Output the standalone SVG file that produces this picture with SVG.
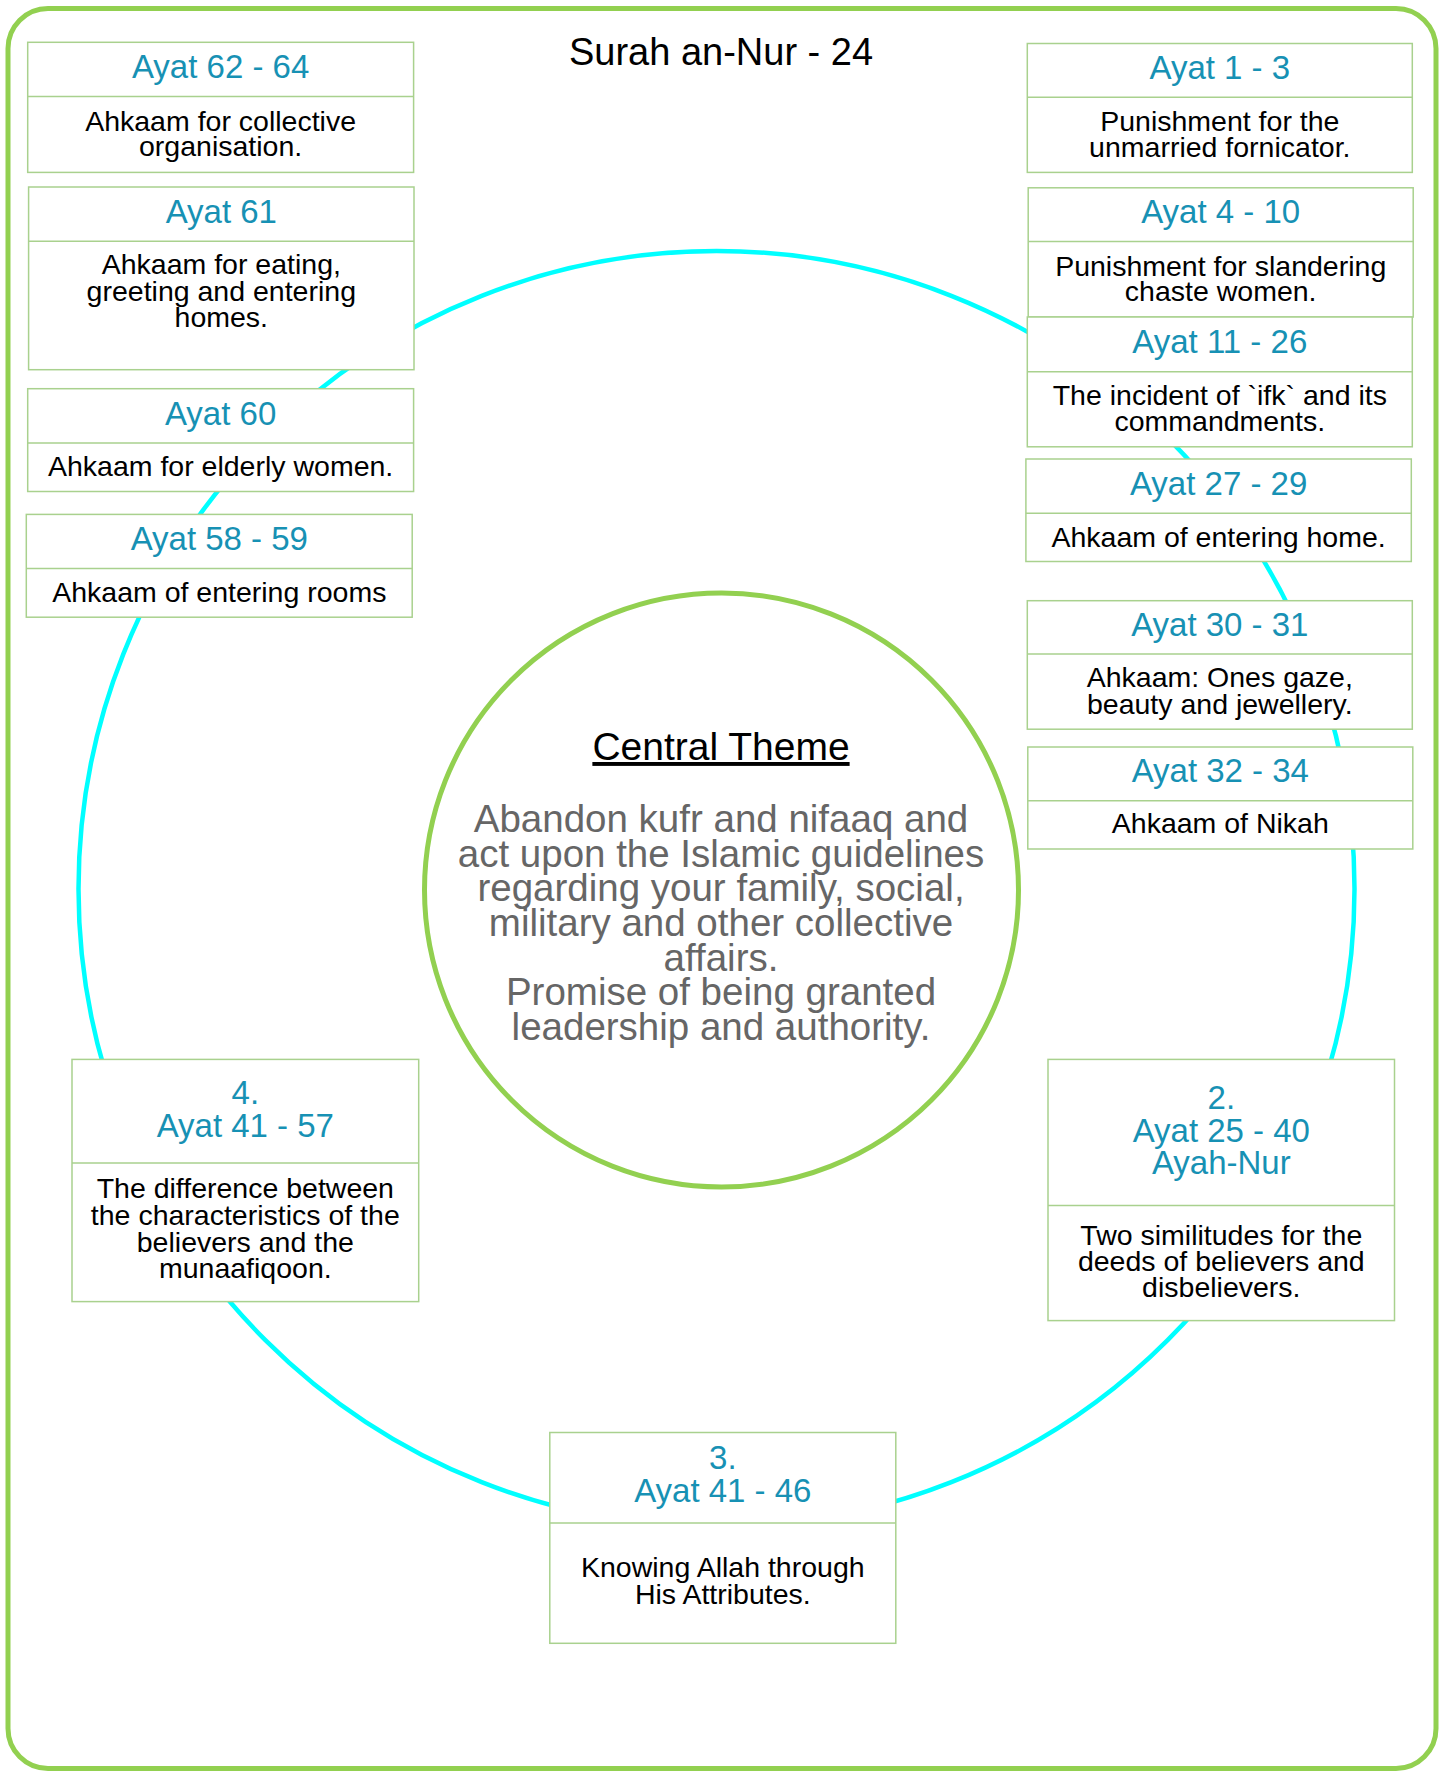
<svg xmlns="http://www.w3.org/2000/svg" width="1447" height="1772" viewBox="0 0 1447 1772">
<style>
.box{fill:#ffffff;stroke:#a9d18e;stroke-width:1.5}
.div{stroke:#a9d18e;stroke-width:1.5}
.hd{font-family:"Liberation Sans",Arial,sans-serif;font-size:33px;fill:#1791b4;text-anchor:middle}
.bd{font-family:"Liberation Sans",Arial,sans-serif;font-size:28.5px;fill:#000000;text-anchor:middle}
.ct{font-family:"Liberation Sans",Arial,sans-serif;font-size:38.5px;fill:#666666;text-anchor:middle}
</style>
<rect x="0" y="0" width="1447" height="1772" fill="#ffffff"/>
<rect id="frame" x="8" y="8.5" width="1428" height="1760" rx="40" ry="40" fill="none" stroke="#92d050" stroke-width="5"/>
<text id="title" x="721" y="64.5" font-family="'Liberation Sans',Arial,sans-serif" font-size="38" fill="#000000" text-anchor="middle">Surah an-Nur - 24</text>
<g id="connectors">
<circle cx="716.5" cy="889" r="638" fill="none" stroke="#00ffff" stroke-width="4.5"/>
</g>
<g id="central">
<circle cx="721.5" cy="890" r="297" fill="#ffffff" stroke="#92d050" stroke-width="5"/>
<text x="721" y="760" font-family="'Liberation Sans',Arial,sans-serif" font-size="39" fill="#000000" text-anchor="middle" text-decoration="underline">Central Theme</text>
<text class="ct"><tspan x="721" y="832">Abandon kufr and nifaaq and</tspan><tspan x="721" y="866.8">act upon the Islamic guidelines</tspan><tspan x="721" y="901.2">regarding your family, social,</tspan><tspan x="721" y="936">military and other collective</tspan><tspan x="721" y="970.8">affairs.</tspan><tspan x="721" y="1005.2">Promise of being granted</tspan><tspan x="721" y="1039.6">leadership and authority.</tspan></text>
</g>
<g id="ayat62-64">
<rect class="box" x="27.7" y="42.3" width="385.9" height="130.1"/>
<line class="div" x1="27.7" y1="96.5" x2="413.6" y2="96.5"/>
<text class="hd" x="220.6" y="78">Ayat 62 - 64</text>
<text class="bd"><tspan x="220.6" y="130.5">Ahkaam for collective</tspan><tspan x="220.6" y="156.2">organisation.</tspan></text>
</g>
<g id="ayat61">
<rect class="box" x="28.6" y="187" width="385.4" height="182.7"/>
<line class="div" x1="28.6" y1="241.2" x2="414" y2="241.2"/>
<text class="hd" x="221.3" y="223.4">Ayat 61</text>
<text class="bd"><tspan x="221.3" y="274">Ahkaam for eating,</tspan><tspan x="221.3" y="300.5">greeting and entering</tspan><tspan x="221.3" y="327">homes.</tspan></text>
</g>
<g id="ayat60">
<rect class="box" x="27.7" y="388.7" width="385.9" height="102.8"/>
<line class="div" x1="27.7" y1="442.9" x2="413.6" y2="442.9"/>
<text class="hd" x="220.6" y="425">Ayat 60</text>
<text class="bd" x="220.6" y="475.7">Ahkaam for elderly women.</text>
</g>
<g id="ayat58-59">
<rect class="box" x="26.3" y="514.4" width="385.9" height="102.8"/>
<line class="div" x1="26.3" y1="568.6" x2="412.2" y2="568.6"/>
<text class="hd" x="219.3" y="549.6">Ayat 58 - 59</text>
<text class="bd" x="219.3" y="601.8">Ahkaam of entering rooms</text>
</g>
<g id="ayat1-3">
<rect class="box" x="1027.3" y="43.5" width="385" height="128.9"/>
<line class="div" x1="1027.3" y1="97.3" x2="1412.3" y2="97.3"/>
<text class="hd" x="1219.8" y="79">Ayat 1 - 3</text>
<text class="bd"><tspan x="1219.8" y="130.5">Punishment for the</tspan><tspan x="1219.8" y="157">unmarried fornicator.</tspan></text>
</g>
<g id="ayat4-10">
<rect class="box" x="1028.2" y="187.8" width="385" height="129.2"/>
<line class="div" x1="1028.2" y1="241.6" x2="1413.2" y2="241.6"/>
<text class="hd" x="1220.7" y="223.4">Ayat 4 - 10</text>
<text class="bd"><tspan x="1220.7" y="275.6">Punishment for slandering</tspan><tspan x="1220.7" y="301.3">chaste women.</tspan></text>
</g>
<g id="ayat11-26">
<rect class="box" x="1027.3" y="317" width="385" height="129.8"/>
<line class="div" x1="1027.3" y1="371.7" x2="1412.3" y2="371.7"/>
<text class="hd" x="1219.8" y="353">Ayat 11 - 26</text>
<text class="bd"><tspan x="1219.8" y="405.3">The incident of `ifk` and its</tspan><tspan x="1219.8" y="431">commandments.</tspan></text>
</g>
<g id="ayat27-29">
<rect class="box" x="1025.9" y="459" width="385.4" height="102.5"/>
<line class="div" x1="1025.9" y1="513.2" x2="1411.3" y2="513.2"/>
<text class="hd" x="1218.6" y="495">Ayat 27 - 29</text>
<text class="bd" x="1218.6" y="546.5">Ahkaam of entering home.</text>
</g>
<g id="ayat30-31">
<rect class="box" x="1027.3" y="600.7" width="385" height="128.5"/>
<line class="div" x1="1027.3" y1="654" x2="1412.3" y2="654"/>
<text class="hd" x="1219.8" y="636.3">Ayat 30 - 31</text>
<text class="bd"><tspan x="1219.8" y="686.9">Ahkaam: Ones gaze,</tspan><tspan x="1219.8" y="713.8">beauty and jewellery.</tspan></text>
</g>
<g id="ayat32-34">
<rect class="box" x="1027.8" y="747" width="385" height="102"/>
<line class="div" x1="1027.8" y1="800.8" x2="1412.8" y2="800.8"/>
<text class="hd" x="1220.3" y="781.8">Ayat 32 - 34</text>
<text class="bd" x="1220.3" y="833.2">Ahkaam of Nikah</text>
</g>
<g id="section2">
<rect class="box" x="1048" y="1059.4" width="346.5" height="261.2"/>
<line class="div" x1="1048" y1="1205.5" x2="1394.5" y2="1205.5"/>
<text class="hd"><tspan x="1221.3" y="1109">2.</tspan><tspan x="1221.3" y="1141.6">Ayat 25 - 40</tspan><tspan x="1221.3" y="1173.5">Ayah-Nur</tspan></text>
<text class="bd"><tspan x="1221.3" y="1244.5">Two similitudes for the</tspan><tspan x="1221.3" y="1270.5">deeds of believers and</tspan><tspan x="1221.3" y="1297">disbelievers.</tspan></text>
</g>
<g id="section4">
<rect class="box" x="72" y="1059.4" width="346.7" height="242.2"/>
<line class="div" x1="72" y1="1163" x2="418.7" y2="1163"/>
<text class="hd"><tspan x="245.3" y="1104">4.</tspan><tspan x="245.3" y="1137">Ayat 41 - 57</tspan></text>
<text class="bd"><tspan x="245.3" y="1198.4">The difference between</tspan><tspan x="245.3" y="1224.6">the characteristics of the</tspan><tspan x="245.3" y="1251.5">believers and the</tspan><tspan x="245.3" y="1277.8">munaafiqoon.</tspan></text>
</g>
<g id="section3">
<rect class="box" x="549.8" y="1432.5" width="346" height="210.8"/>
<line class="div" x1="549.8" y1="1523" x2="895.8" y2="1523"/>
<text class="hd"><tspan x="722.8" y="1469.4">3.</tspan><tspan x="722.8" y="1502.4">Ayat 41 - 46</tspan></text>
<text class="bd"><tspan x="722.8" y="1577.4">Knowing Allah through</tspan><tspan x="722.8" y="1603.6">His Attributes.</tspan></text>
</g>
</svg>
